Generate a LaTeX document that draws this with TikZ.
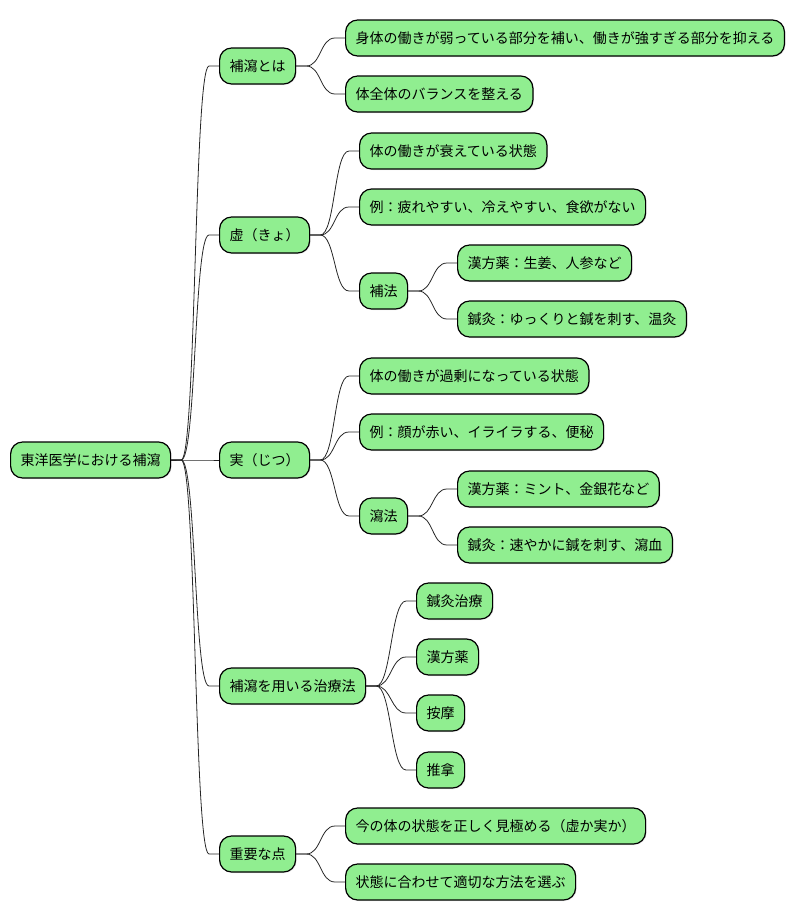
\documentclass[tikz,border=0pt]{standalone}
\usepackage{fontspec}
\setmainfont{Noto Sans CJK JP}
\usetikzlibrary{calc,shadows}
\definecolor{mmgreen}{HTML}{90EE90}
\tikzset{
  mmbox/.style={draw=black, line width=1.2pt, fill=mmgreen, rounded corners=12pt,
    anchor=west, minimum height=36pt, inner xsep=10pt, inner ysep=0pt,
    font=\fontsize{14pt}{16pt}\selectfont, text=black,
    drop shadow={opacity=0.2, shadow xshift=1pt, shadow yshift=-1pt}},
  mmline/.style={draw=black!85, line width=0.8pt}
}
\newcommand\mmlink[2]{%
  \draw[mmline] (#1.east) -- ($(#1.east)+(10pt,0)$)
    .. controls ($(#1.east)+(25pt,0)$) and ($(#2.west)+(-25pt,0)$) ..
    ($(#2.west)+(-10pt,0)$) -- (#2.west);}
\begin{document}
\begin{tikzpicture}[x=1pt,y=-1pt]
\useasboundingbox (0,0) rectangle (796,921);
\node[mmbox] (root) at (10,460) {東洋医学における補瀉};
\node[mmbox] (A) at (219,66) {補瀉とは};
\node[mmbox] (A1) at (345,38) {身体の働きが弱っている部分を補い、働きが強すぎる部分を抑える};
\node[mmbox] (A2) at (345,94) {体全体のバランスを整える};
\node[mmbox] (B) at (219,235) {虚（きょ）};
\node[mmbox] (B1) at (359,151) {体の働きが衰えている状態};
\node[mmbox] (B2) at (359,207) {例：疲れやすい、冷えやすい、食欲がない};
\node[mmbox] (B3) at (359,291) {補法};
\node[mmbox] (B31) at (457,263) {漢方薬：生姜、人参など};
\node[mmbox] (B32) at (457,319) {鍼灸：ゆっくりと鍼を刺す、温灸};
\node[mmbox] (C) at (219,460) {実（じつ）};
\node[mmbox] (C1) at (359,376) {体の働きが過剰になっている状態};
\node[mmbox] (C2) at (359,432) {例：顔が赤い、イライラする、便秘};
\node[mmbox] (C3) at (359,516) {瀉法};
\node[mmbox] (C31) at (457,489) {漢方薬：ミント、金銀花など};
\node[mmbox] (C32) at (457,545) {鍼灸：速やかに鍼を刺す、瀉血};
\node[mmbox] (D) at (219,686) {補瀉を用いる治療法};
\node[mmbox] (D1) at (416,601) {鍼灸治療};
\node[mmbox] (D2) at (416,657) {漢方薬};
\node[mmbox] (D3) at (416,713) {按摩};
\node[mmbox] (D4) at (416,770) {推拿};
\node[mmbox] (E) at (219,854) {重要な点};
\node[mmbox] (E1) at (345,826) {今の体の状態を正しく見極める（虚か実か）};
\node[mmbox] (E2) at (345,882) {状態に合わせて適切な方法を選ぶ};
\mmlink{root}{A}\mmlink{root}{B}\mmlink{root}{C}\mmlink{root}{D}\mmlink{root}{E}
\mmlink{A}{A1}\mmlink{A}{A2}
\mmlink{B}{B1}\mmlink{B}{B2}\mmlink{B}{B3}
\mmlink{B3}{B31}\mmlink{B3}{B32}
\mmlink{C}{C1}\mmlink{C}{C2}\mmlink{C}{C3}
\mmlink{C3}{C31}\mmlink{C3}{C32}
\mmlink{D}{D1}\mmlink{D}{D2}\mmlink{D}{D3}\mmlink{D}{D4}
\mmlink{E}{E1}\mmlink{E}{E2}
\end{tikzpicture}
\end{document}
